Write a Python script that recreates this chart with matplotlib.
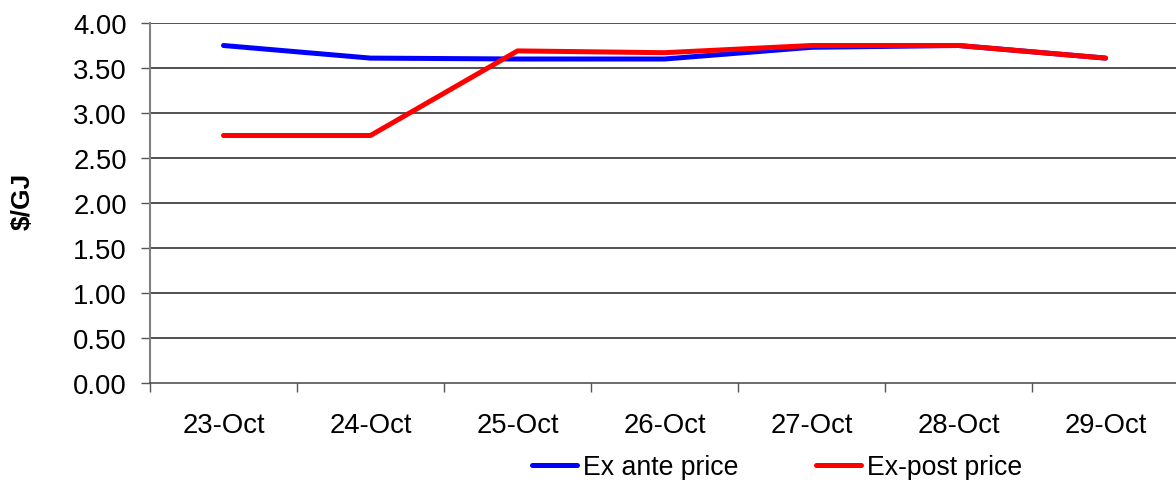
import matplotlib.pyplot as plt
import numpy as np

plt.rcParams['font.family'] = ['Liberation Sans', 'DejaVu Sans']

days = ['23-Oct', '24-Oct', '25-Oct', '26-Oct', '27-Oct', '28-Oct', '29-Oct']
ex_ante = [3.75, 3.61, 3.60, 3.60, 3.73, 3.75, 3.61]
ex_post = [2.75, 2.75, 3.69, 3.67, 3.75, 3.75, 3.61]
y_ticks = [0.0, 0.5, 1.0, 1.5, 2.0, 2.5, 3.0, 3.5, 4.0]

fig = plt.figure(figsize=(11.76, 4.81), dpi=100)
ax = fig.add_axes([150 / 1176, 97 / 481, 1029 / 1176, 360 / 481])

x = np.arange(len(days))
l1, = ax.plot(x, ex_ante, color='#0000ff', lw=3.6, solid_capstyle='round', zorder=3, label='Ex ante price')
l2, = ax.plot(x, ex_post, color='#ff0000', lw=3.6, solid_capstyle='round', zorder=4, label='Ex-post price')

ax.set_xlim(-0.5, len(days) - 0.5)
ax.set_ylim(0, 4)
ax.set_yticks(y_ticks)
ax.set_yticklabels([f'{v:.2f}' for v in y_ticks], fontsize=19.8)
for v in y_ticks[1:]:
    ax.axhline(v, color='#222222', lw=1.1, zorder=1)

# category boundaries get tick marks, labels sit between them
ax.set_xticks(np.arange(-0.5, len(days), 1.0))
ax.set_xticklabels([])
ax.set_xticks(x, minor=True)
ax.set_xticklabels(days, minor=True, fontsize=19.8)
ax.tick_params(axis='x', which='major', direction='out', length=6.5, width=1, color='#555555')
ax.tick_params(axis='x', which='minor', length=0, pad=21)
ax.tick_params(axis='y', direction='out', length=6.5, width=1, color='#555555', pad=10)

for s in ['top', 'right']:
    ax.spines[s].set_visible(False)
ax.spines['left'].set_color('#808080')
ax.spines['left'].set_linewidth(1.5)
ax.spines['bottom'].set_color('#444444')
ax.spines['bottom'].set_linewidth(1.1)

fig.text(23 / 1176, 1 - 201 / 481, '$/GJ', rotation=90, fontsize=19, fontweight='bold',
         ha='center', va='center')

fig.legend(handles=[l1, l2], loc='center', bbox_to_anchor=(777 / 1176, 1 - 468 / 481),
           ncol=2, frameon=False, fontsize=19.2, handlelength=1.7, handletextpad=0.23,
           columnspacing=2.9, borderpad=0)

fig.savefig('out.png', dpi=100)
